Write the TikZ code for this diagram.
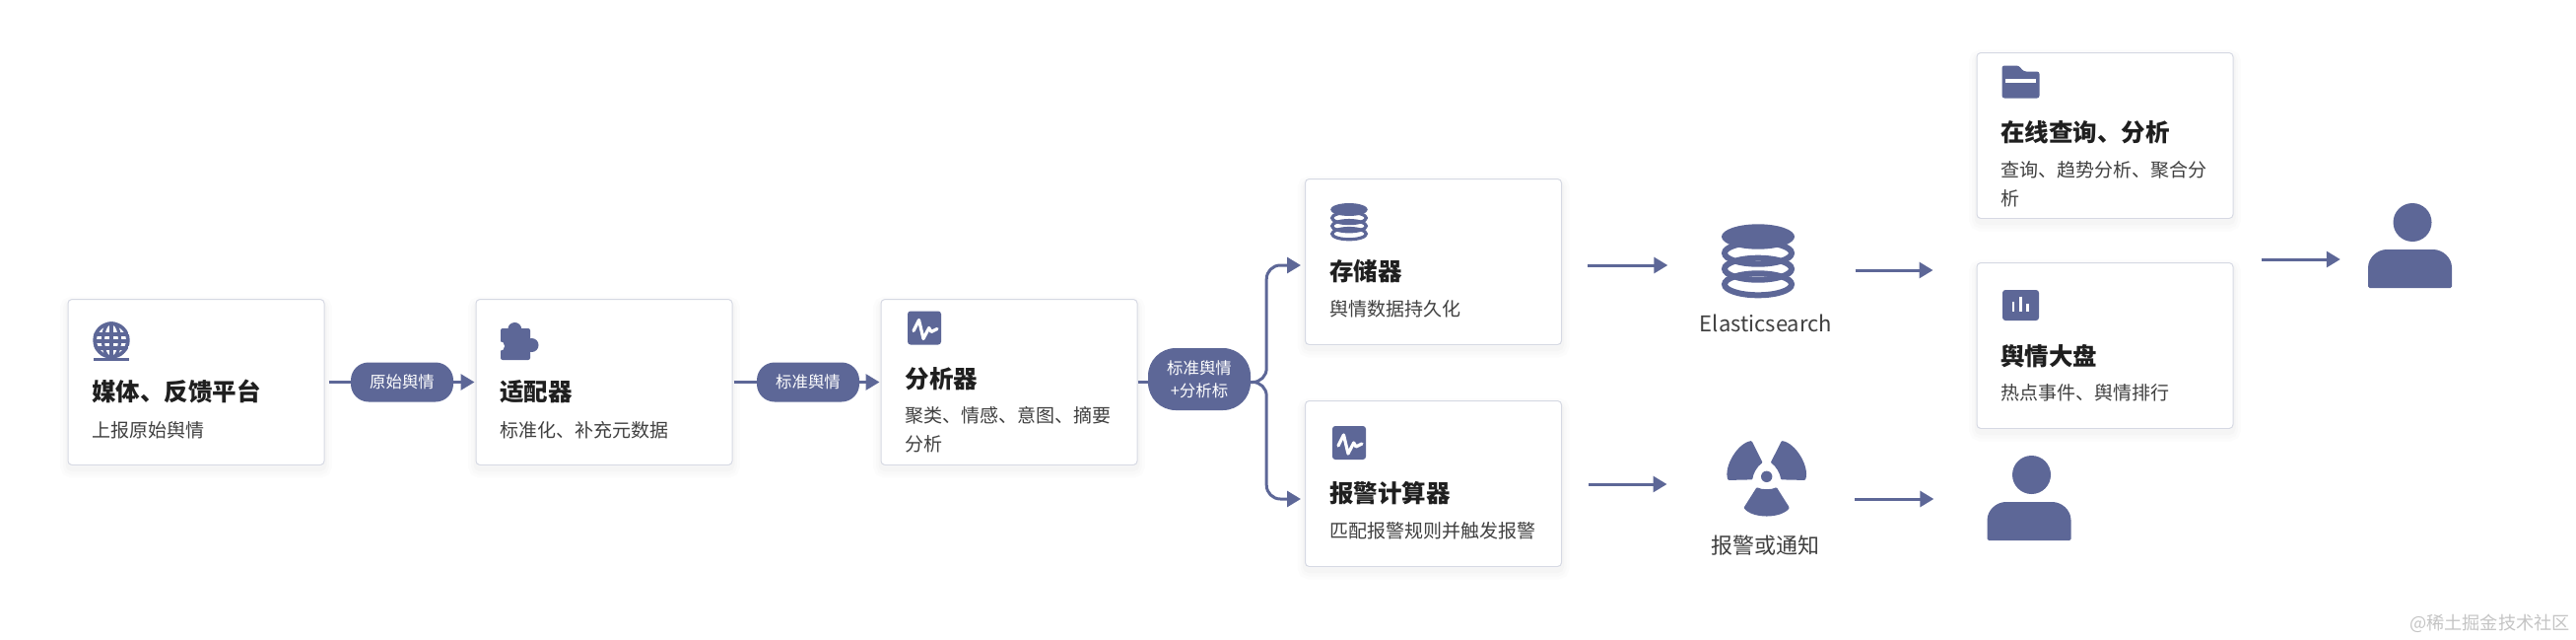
\documentclass[tikz,border=0pt]{standalone}
\usepackage{fontspec}
\setmainfont{Noto Sans CJK SC}
\usetikzlibrary{arrows.meta}

\definecolor{flowblue}{HTML}{5D6797}
\definecolor{cardedge}{HTML}{D6D9E3}
\definecolor{titleink}{HTML}{1F1F1F}
\definecolor{descink}{HTML}{404040}
\definecolor{markgray}{HTML}{C4C4C4}

\tikzset{
    card/.style={draw=cardedge, fill=white, rounded corners=4pt, line width=1pt,
        minimum width=260pt, minimum height=168pt, inner sep=0pt,
        preaction={draw=black, draw opacity=.010, line width=16pt, transform canvas={yshift=-5pt}},
        preaction={draw=black, draw opacity=.010, line width=10pt, transform canvas={yshift=-5pt}},
        preaction={draw=black, draw opacity=.015, line width=5pt, transform canvas={yshift=-4pt}}},
    pill/.style={fill=flowblue, text=white, rounded corners=18pt, inner sep=0pt,
        minimum width=104pt, align=center, font=\fontsize{16.4}{23}\selectfont},
    cardtitle/.style={anchor=west, inner sep=0pt, text=titleink, text height=21pt, text depth=3pt,
        font=\fontsize{24.5}{29}\selectfont\bfseries},
    carddesc/.style={anchor=west, inner sep=0pt, text=descink, align=left,
        font=\fontsize{19}{29}\selectfont},
    iconlabel/.style={inner sep=0pt, text=descink, font=\fontsize{22}{26}\selectfont},
    iconspot/.style={inner sep=0pt},
    flowline/.style={draw=flowblue, line width=3pt},
    flowarrow/.style={flowline, -{Triangle[length=14pt,width=16pt]}},
    dbring/.store in=\dbring, dbring=6pt,
    globe/.pic={
        \begin{scope}
            \clip (0,0) circle (18.7);
            \draw[flowblue, line width=4pt] (0,0) circle (17);
            \draw[flowblue, line width=3.2pt] (0,0) ellipse (8.5 and 18);
            \draw[flowblue, line width=3.2pt] (0,-18) -- (0,18);
            \draw[flowblue, line width=3.2pt] (-18,-6) -- (18,-6);
            \draw[flowblue, line width=3.2pt] (-18,1) -- (18,1);
            \draw[flowblue, line width=3.2pt] (-18,8) -- (18,8);
        \end{scope}
        \fill[flowblue] (-18,17.5) rectangle (18,20.5);
    },
    puzzle/.pic={
        \fill[flowblue, rounded corners=2pt] (-19,-12) rectangle (11,20);
        \fill[flowblue] (-4.7,-11) circle (7);
        \fill[flowblue] (12.5,5) circle (7);
        \fill[white] (-20,6) circle (5);
    },
    pulse/.pic={
        \fill[flowblue, rounded corners=3pt] (-17,-17) rectangle (17,17);
        \draw[white, line width=3.2pt, line join=round, line cap=round]
            (-11,3) -- (-5.5,-8) -- (-1,11) -- (4.7,0) -- (7,4) -- (13,1);
    },
    dbstack/.pic={
        \draw[flowblue, line width=\dbring] (0,48.3) ellipse (34 and 11);
        \draw[flowblue, line width=\dbring] (0,32.7) ellipse (34 and 11);
        \draw[flowblue, line width=\dbring] (0,16.7) ellipse (34 and 11);
        \fill[flowblue] (0,0) ellipse (37 and 12.7);
    },
    folder/.pic={
        \fill[flowblue, rounded corners=2.5pt] (-19,16.5) -- (-19,-16.5) -- (-2,-16.5)
            -- (3,-10.5) -- (19,-10.5) -- (19,16.5) -- cycle;
        \fill[white] (-15.5,-3.5) rectangle (15.5,0.5);
    },
    barchart/.pic={
        \fill[flowblue, rounded corners=3pt] (-18.5,-15.5) rectangle (18.5,15.5);
        \draw[white, line width=2.6pt] (-7.5,-3.5) -- (-7.5,6.5);
        \draw[white, line width=2.6pt] (0,-9) -- (0,6.5);
        \draw[white, line width=2.6pt] (7,-1.5) -- (7,6.5);
    },
    nukeblade/.pic={
        \fill[flowblue, rounded corners=1pt] (-10,10.7) .. controls (-5,13.5) and (5,13.5) .. (10,10.7)
            -- (23.3,31.7) .. controls (14,42.8) and (-14,42.8) .. (-23.3,31.7) -- cycle;
    },
    person/.pic={
        \fill[flowblue] (2.5,-23.5) ellipse (19.5 and 19.5);
        \fill[flowblue, rounded corners=1.5pt] (-42.5,43) -- (-42.5,24) .. controls (-42.5,12) and (-33,4) .. (-22,4)
            -- (22,4) .. controls (33,4) and (42.5,12) .. (42.5,24) -- (42.5,43) -- cycle;
    }
}

\begin{document}
\begin{tikzpicture}[x=1pt, y=-1pt]
    \useasboundingbox (0,0) rectangle (2614,648);

    % cards
    \node[card] (media) at (199,387.5) {};
    \node[card] (adapter) at (613,387.5) {};
    \node[card] (analyzer) at (1024,387.5) {};
    \node[card] (store) at (1454.5,265.5) {};
    \node[card] (alarm) at (1454.5,490.5) {};
    \node[card] (query) at (2136,137.5) {};
    \node[card] (board) at (2136,350.5) {};

    % pills on the links
    \node[pill, minimum height=40pt] (rawpill) at (408,387.5) {原始舆情};
    \node[pill, minimum height=40pt] (stdpill) at (820,387.5) {标准舆情};
    \node[pill, minimum height=63pt, rounded corners=28pt] (mixpill) at (1217,384.5) {标准舆情\\+分析标};

    % card icons
    \pic at (113,345) {globe};
    \pic at (527,345) {puzzle};
    \pic at (938,332.5) {pulse};
    \pic[scale=.51, dbring=3.2pt] at (1369,212.5) {dbstack};
    \pic at (1369,449) {pulse};
    \pic at (2050.5,83) {folder};
    \pic at (2050.5,309.5) {barchart};

    % card texts
    \node[cardtitle] (mediatitle) at (93,397) {媒体、反馈平台};
    \node[carddesc] (mediadesc) at (93,436) {上报原始舆情};
    \node[cardtitle] (adaptertitle) at (507,397) {适配器};
    \node[carddesc] (adapterdesc) at (507,436) {标准化、补充元数据};
    \node[cardtitle] (analyzertitle) at (918.5,384) {分析器};
    \node[carddesc] (analyzerdesc) at (918.5,435.5) {聚类、情感、意图、摘要\\分析};
    \node[cardtitle] (storetitle) at (1349,275) {存储器};
    \node[carddesc] (storedesc) at (1349,313) {舆情数据持久化};
    \node[cardtitle] (alarmtitle) at (1349,500) {报警计算器};
    \node[carddesc] (alarmdesc) at (1349,538) {匹配报警规则并触发报警};
    \node[cardtitle] (querytitle) at (2030,134) {在线查询、分析};
    \node[carddesc] (querydesc) at (2030,186.5) {查询、趋势分析、聚合分\\析};
    \node[cardtitle] (boardtitle) at (2030,361) {舆情大盘};
    \node[carddesc] (boarddesc) at (2030,398) {热点事件、舆情排行};

    % free standing icons
    \node[iconspot, minimum width=75pt, minimum height=73pt] (esicon) at (1784,263.5) {};
    \pic at (1784,240) {dbstack};
    \node[iconlabel] (eslabel) at (1792,328) {Elasticsearch};
    \node[iconspot, minimum width=80pt, minimum height=78pt] (nukeicon) at (1792.7,485) {};
    \fill[flowblue] (1792.7,483.3) circle (5.7);
    \pic at (1792.7,483.3) {nukeblade};
    \pic[rotate=121] at (1792.7,483.3) {nukeblade};
    \pic[rotate=-121] at (1792.7,483.3) {nukeblade};
    \node[iconlabel] (nukelabel) at (1791.5,553) {报警或通知};
    \node[iconspot, minimum width=85pt, minimum height=86pt] (userright) at (2445.5,249) {};
    \pic at (userright) {person};
    \node[iconspot, minimum width=85pt, minimum height=86pt] (userleft) at (2059,505) {};
    \pic at (userleft) {person};

    % links
    \draw[flowline, shorten <=4pt] (media) -- (rawpill);
    \draw[flowarrow, shorten >=1pt] (rawpill) -- (adapter);
    \draw[flowline, shorten <=1pt] (adapter) -- (stdpill);
    \draw[flowarrow, shorten >=1pt] (stdpill) -- (analyzer);
    \draw[flowline] (analyzer.east) -- (mixpill.west |- analyzer.east);
    \draw[flowarrow, rounded corners=14pt, shorten >=4pt] (mixpill.east |- analyzer.east)
        -- ++(16,0) |- (store.west |- 0,269);
    \draw[flowarrow, rounded corners=14pt, shorten >=4pt] (mixpill.east |- analyzer.east)
        -- ++(16,0) |- (alarm.west |- 0,506);
    \draw[flowarrow, shorten <=26pt, shorten >=54pt] (store.east |- 0,269) -- (esicon.west |- 0,269);
    \draw[flowarrow, shorten <=61pt, shorten >=44pt] (esicon.east |- 0,274) -- (board.west |- 0,274);
    \draw[flowarrow, shorten <=28pt, shorten >=28pt] (board.east |- 0,263) -- (userright.west |- 0,263);
    \draw[flowarrow, shorten <=27pt, shorten >=61pt] (alarm.east |- 0,491) -- (nukeicon.west |- 0,491);
    \draw[flowarrow, shorten <=49pt, shorten >=54pt] (nukeicon.east |- 0,506) -- (userleft.west |- 0,506);

    \node[anchor=east, inner sep=0pt, text=markgray, font=\fontsize{18.2}{22}\selectfont] (mark) at (2608,632) {@稀土掘金技术社区};
\end{tikzpicture}
\end{document}
